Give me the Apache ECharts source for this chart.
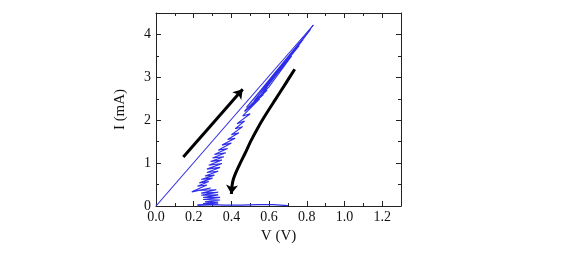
<!DOCTYPE html>
<html>
<head>
<meta charset="utf-8">
<script src="https://cdn.jsdelivr.net/npm/echarts@6/dist/echarts.min.js"></script>
<style>
  html, body { margin: 0; padding: 0; background: #fff; }
  #chart { width: 584px; height: 265px; }
</style>
</head>
<body>
<div id="chart"></div>
<script>
// sweep up: straight branch (V, mA)
var sweepUp = [[0, 0], [0.835, 4.22]];
// sweep down: noisy branch back to low current
var sweepDown = [
  [0.835, 4.22], [0.60, 2.85], [0.82, 4.12], [0.50, 2.40], [0.80, 4.02], [0.55, 2.55],
  [0.78, 3.88], [0.48, 2.30], [0.76, 3.74], [0.52, 2.45], [0.72, 3.50], [0.60, 2.78],
  [0.47, 2.22], [0.59, 2.70], [0.49, 2.28], [0.57, 2.60], [0.47, 2.20], [0.55, 2.50],
  [0.46, 2.10], [0.50, 2.15], [0.43, 1.92], [0.47, 1.98], [0.42, 1.80], [0.46, 1.85],
  [0.40, 1.66], [0.44, 1.71], [0.38, 1.55], [0.42, 1.58], [0.35, 1.42], [0.40, 1.47],
  [0.33, 1.30], [0.38, 1.34], [0.31, 1.20], [0.37, 1.24], [0.30, 1.12], [0.36, 1.15],
  [0.29, 1.04], [0.35, 1.07], [0.28, 0.95], [0.35, 0.99], [0.27, 0.86], [0.34, 0.90],
  [0.27, 0.78], [0.33, 0.81], [0.26, 0.70], [0.31, 0.72], [0.24, 0.62], [0.30, 0.65],
  [0.23, 0.54], [0.28, 0.57], [0.22, 0.46], [0.27, 0.49], [0.19, 0.33], [0.29, 0.42],
  [0.22, 0.36], [0.32, 0.38], [0.24, 0.30], [0.33, 0.32], [0.24, 0.25], [0.33, 0.26],
  [0.25, 0.20], [0.34, 0.20], [0.25, 0.15], [0.34, 0.14], [0.26, 0.10], [0.33, 0.09],
  [0.25, 0.06], [0.33, 0.05], [0.22, 0.02]
];
// low current tail along the axis
var tail = [[0.22, 0.02], [0.30, 0.03], [0.36, 0.02], [0.45, 0.02], [0.55, 0.03], [0.62, 0.03], [0.66, 0.02], [0.70, 0.01]];
// arrows (annotation)
var arrowUp = [[0.145, 1.14], [0.46, 2.72]];
var arrowDown = [
  [0.736, 3.19], [0.68, 2.80], [0.633, 2.48], [0.585, 2.15], [0.544, 1.85], [0.505, 1.53],
  [0.473, 1.23], [0.445, 0.98], [0.422, 0.76], [0.409, 0.60], [0.403, 0.46]
];
var arrowDownHead = [[0.403, 0.47], [0.400, 0.28]];

var xTicks = [0, 0.2, 0.4, 0.6, 0.8, 1.0, 1.2];
var yTicks = [0, 1, 2, 3, 4];

var font = 'Liberation Serif';
var blue = '#2d2de8';
var ink = '#111';

var chart = echarts.init(document.getElementById('chart'));

function axisBase(pos, labels) {
  return {
    type: 'value',
    position: pos,
    axisLine: { show: true, onZero: false, lineStyle: { color: '#222', width: 1 } },
    axisTick: { show: true, inside: true, length: 5, lineStyle: { color: '#222' } },
    minorTick: { show: true, splitNumber: 2, length: 3, lineStyle: { color: '#222' } },
    splitLine: { show: false },
    minorSplitLine: { show: false },
    axisLabel: { show: labels }
  };
}

var xBottom = Object.assign(axisBase('bottom', true), {
  min: 0, max: 1.3, interval: 0.2,
  name: 'V (V)', nameLocation: 'middle', nameGap: 15,
  nameTextStyle: { fontFamily: font, fontSize: 15, color: ink }
});
xBottom.axisLabel = {
  show: true, fontFamily: font, fontSize: 14, color: ink, margin: 4,
  showMaxLabel: false,
  formatter: function (v) { return xTicks.indexOf(Math.round(v * 10) / 10) >= 0 ? v.toFixed(1) : ''; }
};
var xTop = Object.assign(axisBase('top', false), { min: 0, max: 1.3, interval: 0.2 });

var yLeft = Object.assign(axisBase('left', true), {
  min: 0, max: 4.5, interval: 1,
  name: 'I (mA)', nameLocation: 'middle', nameGap: 28,
  nameTextStyle: { fontFamily: font, fontSize: 15, color: ink }
});
yLeft.axisLabel = {
  show: true, fontFamily: font, fontSize: 14, color: ink, margin: 5,
  showMaxLabel: false,
  formatter: function (v) { return yTicks.indexOf(v) >= 0 ? String(v) : ''; }
};
var yRight = Object.assign(axisBase('right', false), { min: 0, max: 4.5, interval: 1 });

var option = {
  animation: false,
  backgroundColor: '#fff',
  grid: { left: 156, right: 183, top: 13, bottom: 59, show: false },
  xAxis: [xBottom, xTop],
  yAxis: [yLeft, yRight],
  series: [
    {
      type: 'line', data: sweepUp, symbol: 'none',
      lineStyle: { color: blue, width: 1.1 }
    },
    {
      type: 'line', data: sweepDown, symbol: 'none',
      lineStyle: { color: blue, width: 1.1 }
    },
    {
      type: 'line', data: tail, symbol: 'none',
      lineStyle: { color: blue, width: 1.3 }
    },
    {
      type: 'lines', coordinateSystem: 'cartesian2d',
      symbol: ['none', 'arrow'], symbolSize: 9,
      lineStyle: { color: '#000', width: 3, opacity: 1 },
      data: [{ coords: arrowUp }, { coords: arrowDownHead }]
    },
    {
      type: 'line', data: arrowDown, symbol: 'none', smooth: 0.3,
      lineStyle: { color: '#000', width: 3 }
    }
  ]
};

chart.setOption(option);
</script>
</body>
</html>
